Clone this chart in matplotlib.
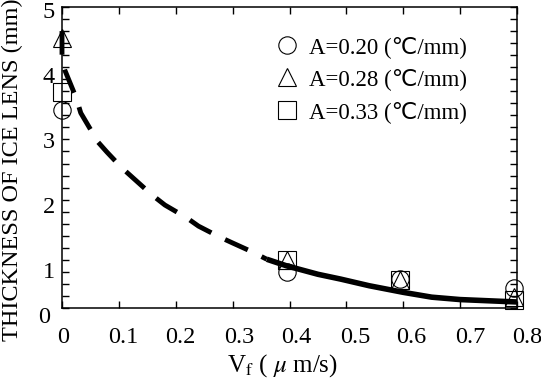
import numpy as np
import matplotlib
matplotlib.use("Agg")
import matplotlib.pyplot as plt
import matplotlib.transforms as mtrans

plt.rcParams['font.family'] = ['Liberation Serif', 'DejaVu Sans']
plt.rcParams['mathtext.fontset'] = 'stix'
plt.rcParams['lines.scale_dashes'] = False

# measured points: freezing rate Vf (um/s) vs ice lens thickness (mm)
vf = [0.0, 0.395, 0.595, 0.795]
thick_a020 = [3.29, 0.60, 0.48, 0.33]
thick_a028 = [4.48, 0.79, 0.46, 0.18]
thick_a033 = [3.59, 0.80, 0.46, 0.13]

# fitted curve (dashed part = extrapolation)
curve_vf = [0.0, 0.0, 0.005, 0.025, 0.033, 0.063, 0.079, 0.105, 0.125, 0.158,
            0.181, 0.219, 0.240, 0.277, 0.300, 0.335, 0.36,
            0.395, 0.45, 0.49, 0.54, 0.60, 0.65, 0.70, 0.75, 0.80]
curve_thick = [4.60, 4.10, 3.95, 3.49, 3.24, 2.76, 2.59, 2.33, 2.16, 1.88,
               1.71, 1.50, 1.36, 1.18, 1.08, 0.93, 0.81,
               0.70, 0.56, 0.48, 0.37, 0.26, 0.18, 0.14, 0.12, 0.10]
solid_from = 0.36

series = [
    ("A=0.20 (℃/mm)", "o", thick_a020),
    ("A=0.28 (℃/mm)", "^", thick_a028),
    ("A=0.33 (℃/mm)", "s", thick_a033),
]

xticks = np.round(np.arange(0, 0.81, 0.1), 1)
yticks = np.arange(0, 6)
y_minor = np.round(np.arange(0, 5.01, 0.2), 1)
# the tick labels in the original sit a little off their ticks (pixels)
x_label_shift = [1, 4, 5, 7, 7, 9, 8, 10, 10]
y_label_shift = [(-5, 7), (0, 22), (0, 17), (0, 13), (0, 8), (0, 3)]

fig = plt.figure(figsize=(5.41, 3.90), dpi=100)
ax = fig.add_axes([62 / 541, 82 / 390, 455 / 541, 301 / 390])

cx = np.array(curve_vf)
cy = np.array(curve_thick)
dash = cx <= solid_from
solid = cx >= solid_from
ax.plot(cx[dash], cy[dash], color='k', lw=3.5, dash_capstyle='butt',
        linestyle=(1, (18, 11)), zorder=3, clip_on=False)
ax.plot(cx[solid], cy[solid], color='k', lw=4.0, solid_capstyle='butt', zorder=3)

for label, mk, vals in series:
    ax.plot(vf, vals, ls='none', marker=mk, ms=12.5, mfc='none', mec='k',
            mew=0.8, label=label, zorder=4, clip_on=False)

ax.set_xlim(0, 0.8)
ax.set_ylim(0, 5)
ax.set_xticks(xticks)
ax.set_xticklabels([f"{t:g}" for t in xticks])
ax.set_yticks(yticks)
ax.set_yticklabels([str(t) for t in yticks])
ax.set_yticks(y_minor, minor=True)
ax.tick_params(which='both', direction='in', length=5, width=1.0,
               color='black', top=True, right=True, labelsize=17.5)
ax.tick_params(axis='x', pad=14)
ax.tick_params(axis='y', pad=5)
for s in ax.spines.values():
    s.set_linewidth(1.1)

for lab, dx in zip(ax.get_xticklabels(), x_label_shift):
    lab.set_transform(lab.get_transform() +
                      mtrans.ScaledTranslation(dx / 100, 0, fig.dpi_scale_trans))
for lab, (dx, dy) in zip(ax.get_yticklabels(), y_label_shift):
    lab.set_transform(lab.get_transform() +
                      mtrans.ScaledTranslation(dx / 100, -dy / 100, fig.dpi_scale_trans))

fig.text(12 / 541, 1 - 170 / 390, "THICKNESS OF ICE LENS (mm)", rotation=90,
         ha='center', va='center', fontsize=17.5)
fig.text(282 / 541, 1 - 366 / 390, r"V$_{\rm f}$ ( $\mu$ m/s)",
         ha='center', va='center', fontsize=18)

ax.legend(loc='upper left', bbox_to_anchor=(0.47, 0.905), frameon=False,
          fontsize=16.5, numpoints=1, handlelength=1.0, handletextpad=0.45,
          labelspacing=0.47, borderpad=0, borderaxespad=0)

fig.savefig("out.png", dpi=100)
